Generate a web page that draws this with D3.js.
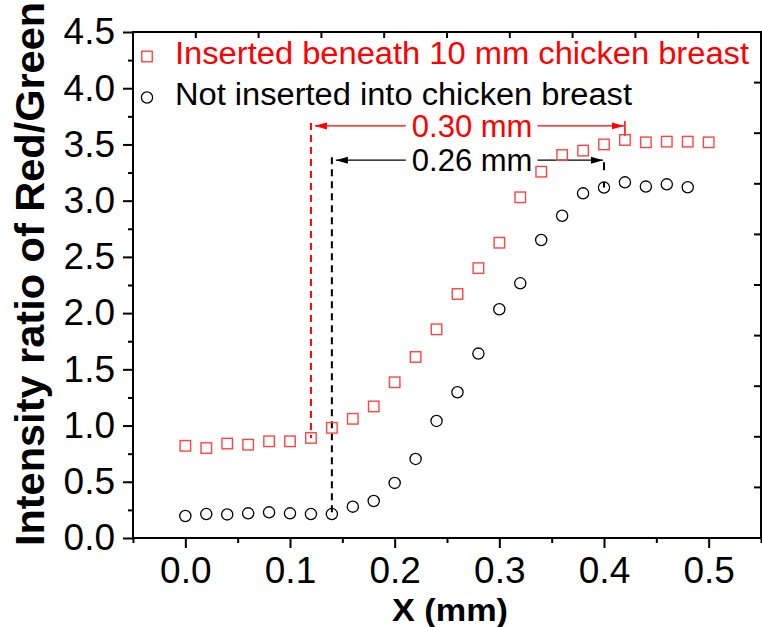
<!DOCTYPE html>
<html>
<head>
<meta charset="utf-8">
<script src="https://cdn.jsdelivr.net/npm/d3@7"></script>
<style>
  html, body { margin: 0; padding: 0; background: #fff; }
  svg { display: block; font-family: "Liberation Sans", Arial, sans-serif; }
</style>
</head>
<body>
<svg id="chart" width="762" height="627"></svg>
<script>
// Sampling positions along the profile (mm)
const xInserted = [0.00, 0.02, 0.04, 0.06, 0.08, 0.10, 0.12, 0.14, 0.16, 0.18, 0.20, 0.22, 0.24,
                   0.26, 0.28, 0.30, 0.32, 0.34, 0.36, 0.38, 0.40, 0.42, 0.44, 0.46, 0.48, 0.50];
const yInserted = [0.82, 0.80, 0.84, 0.83, 0.86, 0.86, 0.89, 0.98, 1.06, 1.17, 1.385, 1.61, 1.856,
                   2.17, 2.40, 2.626, 3.03, 3.258, 3.406, 3.445, 3.50, 3.54, 3.519, 3.525, 3.525, 3.519];

const xFree = [0.00, 0.02, 0.04, 0.06, 0.08, 0.10, 0.12, 0.14, 0.16, 0.18, 0.20, 0.22, 0.24,
               0.26, 0.28, 0.30, 0.32, 0.34, 0.36, 0.38, 0.40, 0.42, 0.44, 0.46, 0.48];
const yFree = [0.196, 0.213, 0.21, 0.219, 0.228, 0.219, 0.213, 0.213, 0.279, 0.329, 0.49, 0.703, 1.041,
               1.296, 1.64, 2.034, 2.265, 2.65, 2.866, 3.065, 3.116, 3.163, 3.125, 3.145, 3.119];

const seriesNames = ["Inserted beneath 10 mm chicken breast", "Not inserted into chicken breast"];

const xTicks = [0.0, 0.1, 0.2, 0.3, 0.4, 0.5];
const yTicks = [0.0, 0.5, 1.0, 1.5, 2.0, 2.5, 3.0, 3.5, 4.0, 4.5];

// Transition-width annotations: start x, end x, arrow level, label
const spanStart = [0.12, 0.14];
const spanEnd   = [0.42, 0.40];
const spanLevel = [3.665, 3.36];
const spanLabel = ["0.30 mm", "0.26 mm"];
const spanLabelX = 0.274;

const RED = "#ff0000";
const FONT = "Liberation Sans, Arial, sans-serif";

const svg = d3.select("#chart");
const margin = { left: 133, right: 1, top: 32, bottom: 89 };
const W = 762, H = 627;

const x = d3.scaleLinear().domain([-0.05, 0.55]).range([margin.left, W - margin.right]);
const y = d3.scaleLinear().domain([0, 4.5]).range([H - margin.bottom, margin.top]);

const x0 = x.range()[0], x1 = x.range()[1];
const y0 = y.range()[0], y1 = y.range()[1];

// defs: arrowheads
const defs = svg.append("defs");
[["arrRed", RED], ["arrBlack", "#000"]].forEach(([id, c]) => {
  defs.append("marker")
    .attr("id", id)
    .attr("viewBox", "0 0 12 8")
    .attr("refX", 12).attr("refY", 4)
    .attr("markerWidth", 12).attr("markerHeight", 8)
    .attr("markerUnits", "userSpaceOnUse")
    .attr("orient", "auto")
    .append("path").attr("d", "M0,0.5 L12,4 L0,7.5 Z").attr("fill", c);
});

// Bottom axis (major ticks labelled, minor ticks at 0.05)
const bottom = svg.append("g").attr("transform", `translate(0,${y0})`)
  .call(d3.axisBottom(x).tickValues(xTicks).tickFormat(d3.format(".1f")).tickSize(10).tickPadding(9));
bottom.select(".domain").remove();
bottom.selectAll("line").attr("stroke-width", 2);
bottom.selectAll("text").attr("font-size", 37).attr("fill", "#000").attr("font-family", FONT);

svg.append("g").attr("transform", `translate(0,${y0})`)
  .call(d3.axisBottom(x).tickValues(d3.range(-0.05, 0.56, 0.1)).tickFormat("").tickSize(5))
  .call(g => g.select(".domain").remove())
  .selectAll("line").attr("stroke-width", 2);

// Left axis
const left = svg.append("g").attr("transform", `translate(${x0},0)`)
  .call(d3.axisLeft(y).tickValues(yTicks).tickFormat(d3.format(".1f")).tickSize(10).tickPadding(8));
left.select(".domain").remove();
left.selectAll("line").attr("stroke-width", 2);
left.selectAll("text").attr("font-size", 37).attr("fill", "#000").attr("font-family", FONT);

svg.append("g").attr("transform", `translate(${x0},0)`)
  .call(d3.axisLeft(y).tickValues(d3.range(0.25, 4.5, 0.5)).tickFormat("").tickSize(5))
  .call(g => g.select(".domain").remove())
  .selectAll("line").attr("stroke-width", 2);

// Top and right frame ticks (ten equal divisions, pointing inward)
const topScale = d3.scaleLinear().domain([0, 10]).range([x0, x1]);
const rightScale = d3.scaleLinear().domain([0, 10]).range([y0, y1]);
svg.append("g").selectAll("line").data(d3.range(1, 10)).join("line")
  .attr("x1", d => topScale(d)).attr("x2", d => topScale(d))
  .attr("y1", y1).attr("y2", y1 + 6)
  .attr("stroke", "#000").attr("stroke-width", 2);
svg.append("g").selectAll("line").data(d3.range(1, 10)).join("line")
  .attr("y1", d => rightScale(d)).attr("y2", d => rightScale(d))
  .attr("x1", x1).attr("x2", x1 - 7)
  .attr("stroke", "#000").attr("stroke-width", 2);

// Frame
svg.append("rect")
  .attr("x", x0).attr("y", y1).attr("width", x1 - x0).attr("height", y0 - y1)
  .attr("fill", "none").attr("stroke", "#000").attr("stroke-width", 2);

// Axis titles
svg.append("text")
  .attr("transform", `translate(44,${(y0 + y1) / 2 - 11}) rotate(-90)`)
  .attr("text-anchor", "middle")
  .attr("font-size", 41.5).attr("font-weight", "bold")
  .text("Intensity ratio of Red/Green");

svg.append("text")
  .attr("x", (x0 + x1) / 2 + 3).attr("y", 621)
  .attr("text-anchor", "middle")
  .attr("font-size", 32).attr("font-weight", "bold")
  .attr("textLength", 116).attr("lengthAdjust", "spacingAndGlyphs")
  .text("X (mm)");

// Annotations
const colors = [RED, "#000"];
const arrowIds = ["arrRed", "arrBlack"];
const startY = [yInserted[xInserted.indexOf(spanStart[0])], yFree[xFree.indexOf(spanStart[1])]];
const endY = [yInserted[xInserted.indexOf(spanEnd[0])], yFree[xFree.indexOf(spanEnd[1])]];

const ann = svg.append("g");
spanLabel.forEach((lab, i) => {
  const c = colors[i];
  const ly = y(spanLevel[i]);
  // dashed drop line at the start of the transition
  ann.append("line")
    .attr("x1", x(spanStart[i])).attr("x2", x(spanStart[i]))
    .attr("y1", ly - 3).attr("y2", y(startY[i]))
    .attr("stroke", c).attr("stroke-width", 2).attr("stroke-dasharray", "7,5");
  // end marker line
  ann.append("line")
    .attr("x1", x(spanEnd[i])).attr("x2", x(spanEnd[i]))
    .attr("y1", i === 0 ? ly - 5 : ly + 2).attr("y2", i === 0 ? y(endY[i]) - 4 : y(endY[i]))
    .attr("stroke", c).attr("stroke-width", i === 0 ? 1.5 : 2)
    .attr("stroke-dasharray", i === 0 ? null : "8,12");
  // label
  const t = ann.append("text")
    .attr("x", x(spanLabelX)).attr("y", ly + 11)
    .attr("text-anchor", "middle")
    .attr("font-size", 31).attr("fill", c)
    .text(lab);
  const bb = t.node().getBBox();
  // arrows on both sides of the label
  ann.append("line")
    .attr("x1", bb.x - 6).attr("x2", x(spanStart[i]) + 4)
    .attr("y1", ly).attr("y2", ly)
    .attr("stroke", c).attr("stroke-width", 1.3)
    .attr("marker-end", `url(#${arrowIds[i]})`);
  ann.append("line")
    .attr("x1", bb.x + bb.width + 5).attr("x2", x(spanEnd[i]) - 1)
    .attr("y1", ly).attr("y2", ly)
    .attr("stroke", c).attr("stroke-width", 1.3)
    .attr("marker-end", `url(#${arrowIds[i]})`);
});

// Data markers
const sq = 10.5;
svg.append("g").selectAll("rect")
  .data(d3.zip(xInserted, yInserted)).join("rect")
  .attr("x", d => x(d[0]) - sq / 2).attr("y", d => y(d[1]) - sq / 2)
  .attr("width", sq).attr("height", sq)
  .attr("fill", "none").attr("stroke", "#f44").attr("stroke-width", 1.4);

svg.append("g").selectAll("circle")
  .data(d3.zip(xFree, yFree)).join("circle")
  .attr("cx", d => x(d[0])).attr("cy", d => y(d[1])).attr("r", 5.6)
  .attr("fill", "none").attr("stroke", "#000").attr("stroke-width", 1.3);

// Legend
const leg = svg.append("g");
leg.append("rect").attr("x", 147 - sq / 2).attr("y", 56.5 - sq / 2).attr("width", sq).attr("height", sq)
  .attr("fill", "none").attr("stroke", "#f44").attr("stroke-width", 1.4);
leg.append("circle").attr("cx", 147).attr("cy", 97.5).attr("r", 5.6)
  .attr("fill", "none").attr("stroke", "#000").attr("stroke-width", 1.3);
leg.append("text").attr("x", 175).attr("y", 64).attr("font-size", 31).attr("fill", RED)
  .attr("textLength", 574).attr("lengthAdjust", "spacingAndGlyphs").text(seriesNames[0]);
leg.append("text").attr("x", 175).attr("y", 105).attr("font-size", 31).attr("fill", "#000")
  .attr("textLength", 457).attr("lengthAdjust", "spacingAndGlyphs").text(seriesNames[1]);
</script>
</body>
</html>
